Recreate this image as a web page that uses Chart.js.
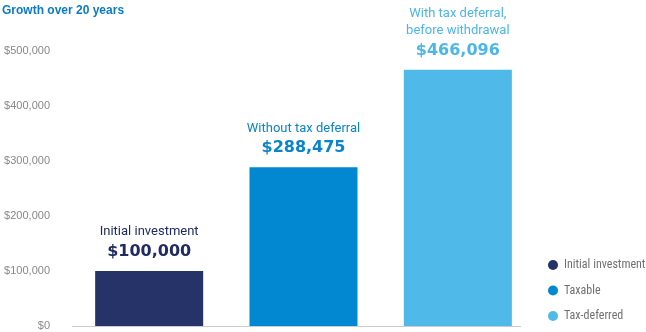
<!DOCTYPE html>
<html>
<head>
<meta charset="utf-8">
<script src="https://cdn.jsdelivr.net/npm/chart.js@4.4.1/dist/chart.umd.min.js"></script>
<style>
  html, body { margin: 0; padding: 0; background: #fff; }
  #wrap { position: relative; width: 646px; height: 332px; }
  #title { position: absolute; left: 2px; top: 3px; font: bold 12px 'Liberation Sans', Arial, sans-serif; color: #0b7bc9; }
</style>
</head>
<body>
<div id="wrap">
  <canvas id="growth" width="646" height="332"></canvas>
  <div id="title">Growth over 20 years</div>
</div>
<script>
const categories = ['Initial investment', 'Taxable', 'Tax-deferred'];
const barLabels = [['Initial investment'], ['Without tax deferral'], ['With tax deferral,', 'before withdrawal']];
const values = [100000, 288475, 466096];
const valueLabels = ['$100,000', '$288,475', '$466,096'];
const barColors = ['#253368', '#0288d1', '#4fb9ea'];
const textColors = ['#1f2b62', '#0a84cc', '#4cb6e8'];

// bar captions above each bar
const barText = {
  id: 'barText',
  afterDatasetsDraw(chart) {
    const ctx = chart.ctx;
    const meta = chart.getDatasetMeta(0);
    ctx.save();
    ctx.textAlign = 'center';
    ctx.textBaseline = 'middle';
    meta.data.forEach((bar, i) => {
      ctx.fillStyle = textColors[i];
      ctx.font = "bold 16px 'DejaVu Sans', 'Liberation Sans', sans-serif";
      ctx.fillText(valueLabels[i], bar.x, bar.y - 19);
      ctx.font = "13px Roboto, 'Liberation Sans', sans-serif";
      const lines = barLabels[i];
      lines.forEach((ln, j) => {
        ctx.fillText(ln, bar.x, bar.y - 39 - (lines.length - 1 - j) * 17);
      });
    });
    ctx.restore();
  }
};

// gray baseline under the bars
const baseline = {
  id: 'baseline',
  beforeDatasetsDraw(chart) {
    const { ctx, chartArea } = chart;
    ctx.save();
    ctx.strokeStyle = '#cccccc';
    ctx.lineWidth = 1;
    ctx.beginPath();
    ctx.moveTo(chartArea.left, chartArea.bottom + 0.5);
    ctx.lineTo(chartArea.right - 14, chartArea.bottom + 0.5);
    ctx.stroke();
    ctx.restore();
  }
};

const sideLegend = {
  id: 'sideLegend',
  afterDraw(chart) {
    const ctx = chart.ctx;
    ctx.save();
    ctx.textBaseline = 'middle';
    ctx.font = "12px 'Liberation Sans Narrow', 'Roboto Condensed', Roboto, sans-serif";
    categories.forEach((c, i) => {
      const y = 265 + i * 25.5;
      ctx.fillStyle = barColors[i];
      ctx.beginPath();
      ctx.arc(553, y, 5, 0, Math.PI * 2);
      ctx.fill();
      ctx.fillStyle = '#707070';
      ctx.fillText(c, 564, y);
    });
    ctx.restore();
  }
};

new Chart(document.getElementById('growth'), {
  type: 'bar',
  data: {
    labels: categories,
    datasets: [{ data: values, backgroundColor: barColors, borderWidth: 0, barPercentage: 0.7, categoryPercentage: 1 }]
  },
  options: {
    responsive: false,
    animation: false,
    layout: { padding: { top: 51, bottom: 6, left: 0, right: 111 } },
    plugins: { legend: { display: false }, tooltip: { enabled: false } },
    scales: {
      x: { display: false },
      y: {
        min: 0,
        max: 500000,
        ticks: {
          stepSize: 100000,
          padding: 22,
          color: '#888',
          font: { family: "'Liberation Sans', Arial, sans-serif", size: 11 },
          callback: (v) => '$' + v.toLocaleString('en-US')
        },
        grid: { display: false, drawTicks: false },
        border: { display: false },
        afterFit: (s) => {
          s.width = 72;
          // tick padding otherwise eats vertical space too
          s.paddingTop = 0;
          s.paddingBottom = 0;
        }
      }
    }
  },
  plugins: [baseline, barText, sideLegend]
});
</script>
</body>
</html>
